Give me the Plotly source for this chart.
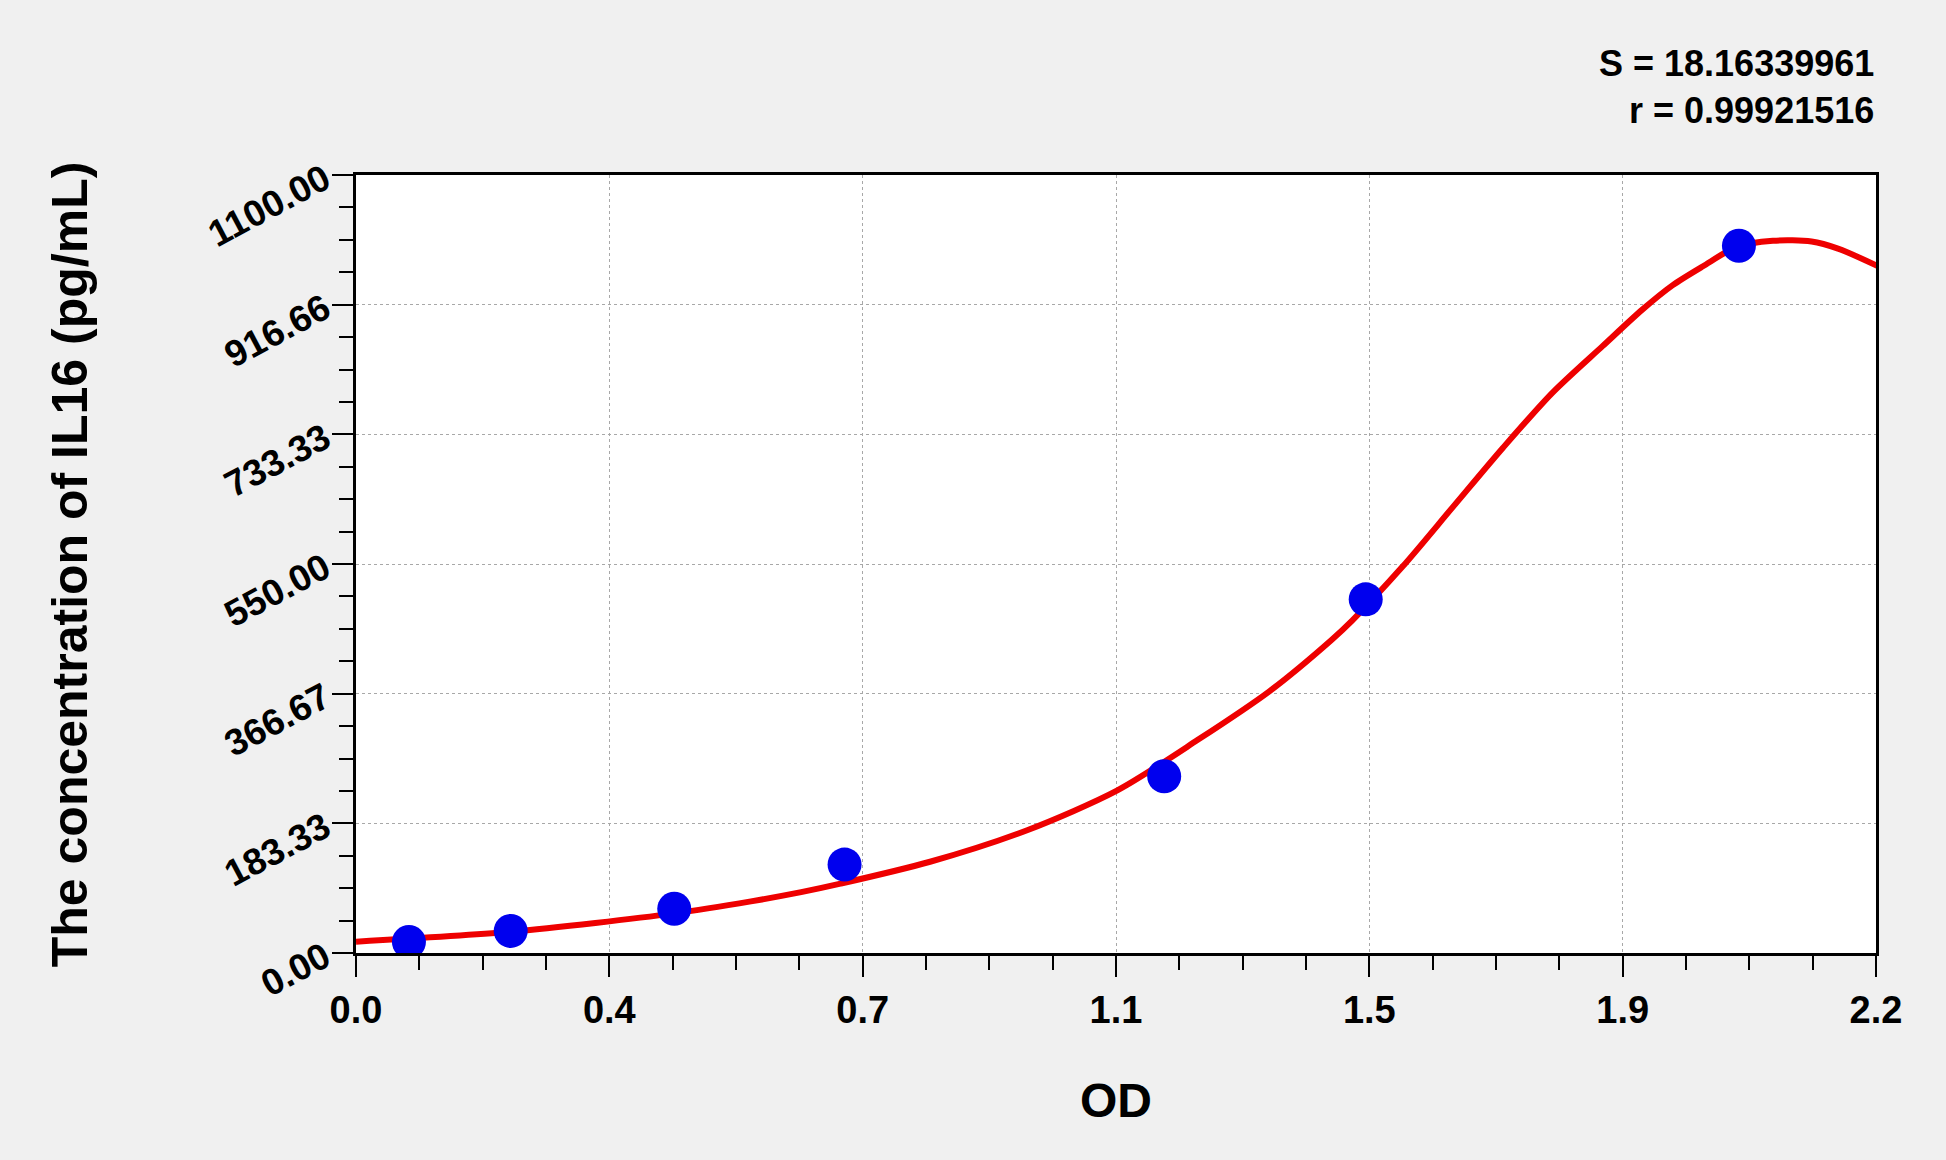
import numpy as np
import plotly.graph_objects as go

# standards (OD vs concentration)
od = [0.078, 0.228, 0.469, 0.720, 1.191, 1.488, 2.038]
conc = [15.63, 31.25, 62.5, 125, 250, 500, 1000]

# fitted curve
fit_od = [0.0, 0.228, 0.469, 0.582, 0.656, 0.714, 0.846, 0.990, 1.122, 1.240,
          1.346, 1.438, 1.468, 1.542, 1.616, 1.690, 1.763, 1.837, 1.896, 1.940,
          1.985, 2.034, 2.088, 2.145, 2.184, 2.243]
fit_conc = [16, 30, 56, 73, 86, 98, 129, 174, 230, 301,
            370, 443, 470, 546, 630, 714, 792, 858, 910, 944,
            971, 998, 1007, 1006, 996, 971]

x_ticktext = ["0.0", "0.4", "0.7", "1.1", "1.5", "1.9", "2.2"]
y_ticktext = ["0.00", "183.33", "366.67", "550.00", "733.33", "916.66", "1100.00"]

S_value = "18.16339961"
r_value = "0.99921516"

X_MAX = 2.24
Y_MAX = 1100

FONT = "Liberation Sans, Arial"

x_major = np.linspace(0, X_MAX, len(x_ticktext))
y_major = np.linspace(0, Y_MAX, len(y_ticktext))
x_minor = np.linspace(0, X_MAX, 4 * (len(x_ticktext) - 1) + 1)
y_minor = np.linspace(0, Y_MAX, 4 * (len(y_ticktext) - 1) + 1)

fig = go.Figure()
fig.add_trace(go.Scatter(x=fit_od, y=fit_conc, mode="lines",
                         line=dict(color="#ee0000", width=6, shape="spline", smoothing=0.8),
                         hoverinfo="skip"))
fig.add_trace(go.Scatter(x=od, y=conc, mode="markers",
                         marker=dict(color="#0000ee", size=34, line=dict(width=0))))

axis_common = dict(
    showline=True, linecolor="black", linewidth=3, mirror=True,
    ticks="outside", ticklen=21, tickwidth=2, tickcolor="black",
    showgrid=True, gridcolor="#a8a8a8", gridwidth=1, griddash="dot",
    zeroline=False, tickmode="array",
)

fig.update_xaxes(
    **axis_common,
    range=[0, X_MAX], tickvals=x_major, ticktext=x_ticktext,
    tickfont=dict(family=FONT, size=38, color="black", weight="bold"),
    minor=dict(tickvals=x_minor, ticklen=14, tickwidth=2, tickcolor="black",
               ticks="outside", showgrid=False),
)
fig.update_yaxes(
    **axis_common,
    range=[0, Y_MAX], tickvals=y_major, ticktext=y_ticktext, tickangle=-28,
    tickfont=dict(family=FONT, size=37, color="black", weight="bold"),
    minor=dict(tickvals=y_minor, ticklen=14, tickwidth=2, tickcolor="black",
               ticks="outside", showgrid=False),
)

# axis titles
fig.add_annotation(x=0.5, y=-0.19, xref="paper", yref="paper", xanchor="center",
                   yanchor="middle", showarrow=False, text="OD",
                   font=dict(family=FONT, size=48, color="black", weight="bold"))
fig.add_annotation(x=-0.188, y=0.5, xref="paper", yref="paper", xanchor="center",
                   yanchor="middle", showarrow=False, textangle=-90,
                   text="The concentration of IL16 (pg/mL)",
                   font=dict(family=FONT, size=50, color="black", weight="bold"))

# fit statistics
fig.add_annotation(x=1, y=1.1427, xref="paper", yref="paper", xanchor="right",
                   yanchor="middle", showarrow=False, text=f"S = {S_value}",
                   font=dict(family=FONT, size=36, color="black", weight="bold"))
fig.add_annotation(x=1, y=1.0823, xref="paper", yref="paper", xanchor="right",
                   yanchor="middle", showarrow=False, text=f"r = {r_value}",
                   font=dict(family=FONT, size=36, color="black", weight="bold"))

fig.update_layout(
    width=1946, height=1160,
    margin=dict(l=356, r=70, t=175, b=207),
    paper_bgcolor="#f0f0f0", plot_bgcolor="white",
    showlegend=False,
)

fig.write_html("out.html", config={"displayModeBar": False},
               post_script="document.body.style.margin='0';"
                           "document.body.style.background='#f0f0f0';")
